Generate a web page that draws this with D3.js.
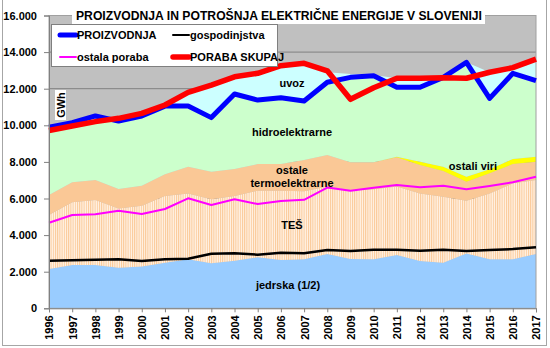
<!DOCTYPE html>
<html>
<head>
<meta charset="utf-8">
<script src="https://cdn.jsdelivr.net/npm/d3@7/dist/d3.min.js"></script>
<style>
  body { margin: 0; background: #fff; }
  svg text { font-family: "Liberation Sans", Arial, sans-serif; font-weight: bold; fill: #000; }
</style>
</head>
<body>
<div id="chart"></div>
<script>
// yearly electricity balance, GWh
var years = [1996, 1997, 1998, 1999, 2000, 2001, 2002, 2003, 2004, 2005, 2006,
             2007, 2008, 2009, 2010, 2011, 2012, 2013, 2014, 2015, 2016, 2017];

// stacked production sources (half of Krško nuclear counted)
var jedrska    = [2150, 2370, 2370, 2220, 2280, 2490, 2680, 2460, 2600, 2790, 2640,
                  2680, 2970, 2690, 2680, 2910, 2580, 2490, 3000, 2680, 2680, 2970];
var tes        = [2950, 3420, 3550, 3240, 3330, 3650, 3600, 3500, 3540, 3640, 3790,
                  3720, 3680, 3770, 3820, 3740, 3700, 3610, 2880, 3600, 4150, 4040];
var ostaleTE   = [1090, 1100, 1090, 1060, 1090, 1180, 1460, 1500, 1470, 1450, 1450,
                  1700, 1730, 1520, 1480, 1600, 1550, 1400, 1040, 1100, 1050, 1000];
var ostaliViri = [0, 0, 0, 0, 0, 0, 0, 0, 0, 0, 0,
                  0, 0, 0, 0, 30, 180, 240, 270, 220, 280, 270];
var hidro      = [3700, 3250, 3500, 3710, 3810, 3730, 3310, 2960, 4100, 3500, 3630,
                  3230, 3970, 4640, 4730, 3800, 4070, 4880, 6250, 3870, 4680, 4160];
var uvoz       = [0, 0, 0, 150, 140, 60, 750, 1780, 940, 1460, 1750,
                  2060, 550, 180, 40, 490, 490, 0, 0, 1430, 310, 1180];

// lines
var proizvodnja   = [9890, 10140, 10510, 10230, 10510, 11050, 11050, 10420, 11710, 11380, 11510,
                     11330, 12350, 12620, 12710, 12080, 12080, 12620, 13440, 11470, 12840, 12440];
var gospodinjstva = [2600, 2620, 2655, 2677, 2584, 2677, 2710, 2984, 3005, 2930, 3040,
                     3005, 3185, 3130, 3200, 3200, 3147, 3200, 3130, 3185, 3240, 3330];
var ostalaPoraba  = [4677, 5098, 5136, 5333, 5152, 5426, 6010, 5644, 5956, 5699, 5863,
                     5930, 6600, 6426, 6590, 6737, 6612, 6700, 6500, 6683, 6885, 7191];
var porabaSkupaj  = [9720, 9960, 10200, 10380, 10650, 11110, 11800, 12200, 12650, 12840, 13260,
                     13390, 12980, 11420, 12050, 12570, 12570, 12600, 12570, 12900, 13150, 13620];

var yTicks = [0, 2000, 4000, 6000, 8000, 10000, 12000, 14000, 16000];

var width = 550, height = 348;
var plot = { left: 49, right: 536, top: 15.5, bottom: 308.3 };

var svg = d3.select("#chart")
    .append("svg")
    .attr("width", width)
    .attr("height", height);

var x = d3.scaleLinear().domain([years[0], years[years.length - 1]]).range([plot.left, plot.right]);
var y = d3.scaleLinear().domain([0, 16000]).range([plot.bottom, plot.top]);

var fmt = d3.formatLocale({ decimal: ",", thousands: ".", grouping: [3], currency: ["", ""] }).format(",");

// hatch for TEŠ band
var defs = svg.append("defs");
var hatch = defs.append("pattern")
    .attr("id", "hatchTes")
    .attr("patternUnits", "userSpaceOnUse")
    .attr("width", 2.2)
    .attr("height", 10);
hatch.append("rect").attr("width", 2.2).attr("height", 10).attr("fill", "#fff3e6");
hatch.append("rect").attr("width", 1).attr("height", 10).attr("fill", "#fbc896");

// outer frame
svg.append("rect")
    .attr("x", 2.5).attr("y", -1)
    .attr("width", 544).attr("height", 346.5)
    .attr("fill", "#fff")
    .attr("stroke", "#a6a6a6");

// plot background
svg.append("rect")
    .attr("x", plot.left).attr("y", plot.top)
    .attr("width", plot.right - plot.left).attr("height", plot.bottom - plot.top)
    .attr("fill", "#c0c0c0");

// horizontal gridlines
svg.append("g")
    .selectAll("line")
    .data(yTicks.slice(1))
    .enter()
    .append("line")
    .attr("x1", plot.left).attr("x2", plot.right)
    .attr("y1", function (d) { return y(d); })
    .attr("y2", function (d) { return y(d); })
    .attr("stroke", "#808080")
    .attr("stroke-width", 1);

// stacked areas
var rows = years.map(function (yr, i) {
    return {
        year: yr,
        jedrska: jedrska[i],
        tes: tes[i],
        ostaleTE: ostaleTE[i],
        ostaliViri: ostaliViri[i],
        hidro: hidro[i],
        uvoz: uvoz[i]
    };
});
var keys = ["jedrska", "tes", "ostaleTE", "ostaliViri", "hidro", "uvoz"];
var fills = {
    jedrska: "#99ccff",
    tes: "url(#hatchTes)",
    ostaleTE: "#fac896",
    ostaliViri: "#ffff00",
    hidro: "#ccffcc",
    uvoz: "#ccffff"
};
var series = d3.stack().keys(keys)(rows);

var area = d3.area()
    .x(function (d) { return x(d.data.year); })
    .y0(function (d) { return y(d[0]); })
    .y1(function (d) { return y(d[1]); });

svg.append("g")
    .selectAll("path")
    .data(series)
    .enter()
    .append("path")
    .attr("d", area)
    .attr("fill", function (s) { return fills[s.key]; });

// thin outline on top of the stack
var top = series[series.length - 1];
svg.append("path")
    .datum(top)
    .attr("fill", "none")
    .attr("stroke", "#7f7f7f")
    .attr("stroke-width", 0.8)
    .attr("d", d3.line()
        .x(function (d) { return x(d.data.year); })
        .y(function (d) { return y(d[1]); }));

// plot border
svg.append("rect")
    .attr("x", plot.left).attr("y", plot.top)
    .attr("width", plot.right - plot.left).attr("height", plot.bottom - plot.top)
    .attr("fill", "none")
    .attr("stroke", "#a0a0a0");

// lines
var line = d3.line()
    .x(function (d, i) { return x(years[i]); })
    .y(function (d) { return y(d); })
    .curve(d3.curveLinear);

function drawLine(values, color, w) {
    svg.append("path")
        .datum(values)
        .attr("fill", "none")
        .attr("stroke", color)
        .attr("stroke-width", w)
        .attr("stroke-linejoin", "round")
        .attr("d", line);
}
drawLine(gospodinjstva, "#000000", 2.5);
drawLine(ostalaPoraba, "#ff00ff", 2);
drawLine(proizvodnja, "#0000ff", 5);
drawLine(porabaSkupaj, "#ff0000", 5.5);

// axes
var yAxis = svg.append("g")
    .attr("transform", "translate(" + plot.left + ",0)")
    .call(d3.axisLeft(y).tickValues(yTicks).tickSize(5).tickPadding(7).tickFormat(fmt));
yAxis.selectAll("text").style("font-size", "11px");

var xAxis = svg.append("g")
    .attr("transform", "translate(0," + plot.bottom + ")")
    .call(d3.axisBottom(x).tickValues(years).tickSize(4).tickFormat(d3.format("d")));
xAxis.selectAll("text")
    .style("font-size", "11px")
    .attr("transform", "rotate(-90)")
    .attr("text-anchor", "end")
    .attr("x", -7)
    .attr("y", 0)
    .attr("dy", "0.36em");

svg.selectAll(".domain").attr("stroke", "#808080");
svg.selectAll(".tick line").attr("stroke", "#808080");

// band labels
var labels = [
    { t: "uvoz", x: 292, y: 87 },
    { t: "hidroelektrarne", x: 292, y: 136 },
    { t: "ostale", x: 292, y: 174 },
    { t: "termoelektrarne", x: 292, y: 187 },
    { t: "TEŠ", x: 292, y: 229 },
    { t: "ostali viri", x: 473, y: 170 },
    { t: "jedrska (1/2)", x: 288, y: 289 }
];
svg.append("g")
    .selectAll("text")
    .data(labels)
    .enter()
    .append("text")
    .attr("x", function (d) { return d.x; })
    .attr("y", function (d) { return d.y; })
    .attr("text-anchor", "middle")
    .style("font-size", "11px")
    .text(function (d) { return d.t; });

// unit label
svg.append("rect")
    .attr("x", 55).attr("y", 90).attr("width", 11).attr("height", 30)
    .attr("fill", "#fff");
svg.append("text")
    .attr("transform", "translate(64.5,105) rotate(-90)")
    .attr("text-anchor", "middle")
    .style("font-size", "11px")
    .text("GWh");

// title
svg.append("rect")
    .attr("x", 72).attr("y", 2).attr("width", 413).attr("height", 22)
    .attr("fill", "#fff");
svg.append("text")
    .attr("x", 76).attr("y", 19.5)
    .attr("textLength", 406)
    .attr("lengthAdjust", "spacingAndGlyphs")
    .style("font-size", "13px")
    .text("PROIZVODNJA IN POTROŠNJA ELEKTRIČNE  ENERGIJE V SLOVENIJI");

// legend
var legend = svg.append("g");
legend.append("rect")
    .attr("x", 51.5).attr("y", 24.5).attr("width", 226).attr("height", 42)
    .attr("fill", "#fff")
    .attr("stroke", "#7f7f7f");
var items = [
    { t: "PROIZVODNJA", c: "#0000ff", w: 5, x: 60, y: 35 },
    { t: "gospodinjstva", c: "#000000", w: 2, x: 173, y: 35 },
    { t: "ostala poraba", c: "#ff00ff", w: 2, x: 60, y: 57 },
    { t: "PORABA SKUPAJ", c: "#ff0000", w: 5.5, x: 173, y: 57 }
];
items.forEach(function (d) {
    legend.append("line")
        .attr("x1", d.x).attr("x2", d.x + 16)
        .attr("y1", d.y).attr("y2", d.y)
        .attr("stroke", d.c)
        .attr("stroke-width", d.w)
        .attr("stroke-linecap", "round");
    legend.append("text")
        .attr("x", d.x + 17).attr("y", d.y + 4)
        .style("font-size", "11px")
        .text(d.t);
});
</script>
</body>
</html>
